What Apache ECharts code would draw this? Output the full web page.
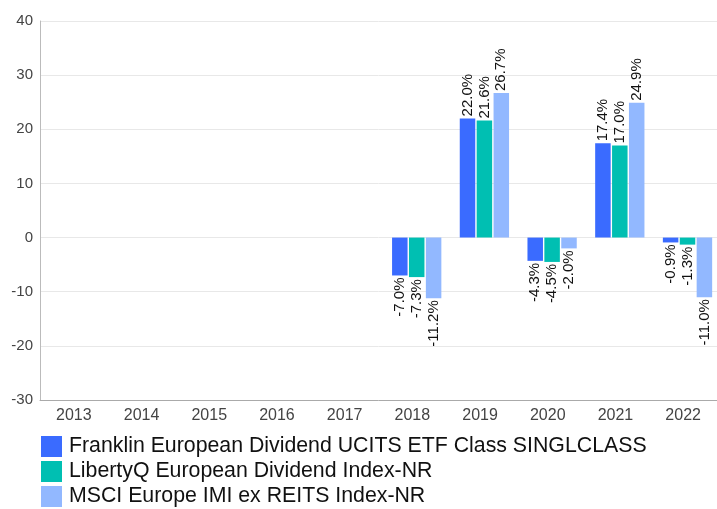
<!DOCTYPE html>
<html>
<head>
<meta charset="utf-8">
<script src="https://cdn.jsdelivr.net/npm/echarts@6/dist/echarts.min.js"></script>
<style>
html,body{margin:0;padding:0;background:#fff;}
#chart{width:717px;height:509px;}
</style>
</head>
<body>
<div id="chart"></div>
<script>
const categories = ['2013','2014','2015','2016','2017','2018','2019','2020','2021','2022'];
const seriesNames = ['Franklin European Dividend UCITS ETF Class SINGLCLASS','LibertyQ European Dividend Index-NR','MSCI Europe IMI ex REITS Index-NR'];
const franklin = [null,null,null,null,null,-7.0,22.0,-4.3,17.4,-0.9];
const libertyQ = [null,null,null,null,null,-7.3,21.6,-4.5,17.0,-1.3];
const msci = [null,null,null,null,null,-11.2,26.7,-2.0,24.9,-11.0];
const colors = ['#3a6bff','#00bfb2','#92b8ff'];

const FONT = '"Liberation Sans", Arial, sans-serif';

function mkData(arr){
  return arr.map(v => {
    if (v === null) return null;
    return {
      value: v,
      label: v >= 0
        ? {position:'top', align:'left', verticalAlign:'middle', rotate:90}
        : {position:'bottom', align:'right', verticalAlign:'middle', rotate:90}
    };
  });
}

const allSeries = [franklin, libertyQ, msci].map((arr, i) => ({
  name: seriesNames[i],
  type: 'bar',
  barWidth: 15.5,
  barGap: '9%',
  itemStyle: {color: colors[i]},
  label: {
    show: true,
    distance: 2,
    fontSize: 15,
    fontFamily: FONT,
    color: '#111',
    formatter: p => p.value.toFixed(1) + '%'
  },
  data: mkData(arr)
}));
// empty spacer slot so the visible bar group sits slightly right of the category centre
allSeries.unshift({
  name: '',
  type: 'bar',
  barWidth: 8,
  barGap: '9%',
  silent: true,
  data: categories.map(() => null)
});

const chart = echarts.init(document.getElementById('chart'));
chart.setOption({
  animation: false,
  backgroundColor: '#fff',
  color: ['#ffffff'].concat(colors),
  grid: {left: 40, right: -4, top: 21, bottom: 109, containLabel: false},
  legend: {
    orient: 'vertical',
    left: 41,
    top: 436,
    height: 120,
    padding: 0,
    itemWidth: 21,
    itemHeight: 21,
    itemGap: 4,
    icon: 'rect',
    textStyle: {fontSize: 21.3, fontFamily: FONT, color: '#111', lineHeight: 21, padding: [0,0,0,2]},
    data: seriesNames
  },
  xAxis: {
    type: 'category',
    data: categories,
    axisLine: {onZero: false, lineStyle: {color: '#aaa'}},
    axisTick: {show: false},
    axisLabel: {fontSize: 16, fontFamily: FONT, color: '#444', margin: 8}
  },
  yAxis: {
    type: 'value',
    min: -30,
    max: 40,
    interval: 10,
    axisLine: {show: true, lineStyle: {color: '#bbb'}},
    axisTick: {show: false},
    splitLine: {lineStyle: {color: '#e8e8e8'}},
    axisLabel: {fontSize: 15, fontFamily: FONT, color: '#444', margin: 7}
  },
  series: allSeries
});
</script>
</body>
</html>
